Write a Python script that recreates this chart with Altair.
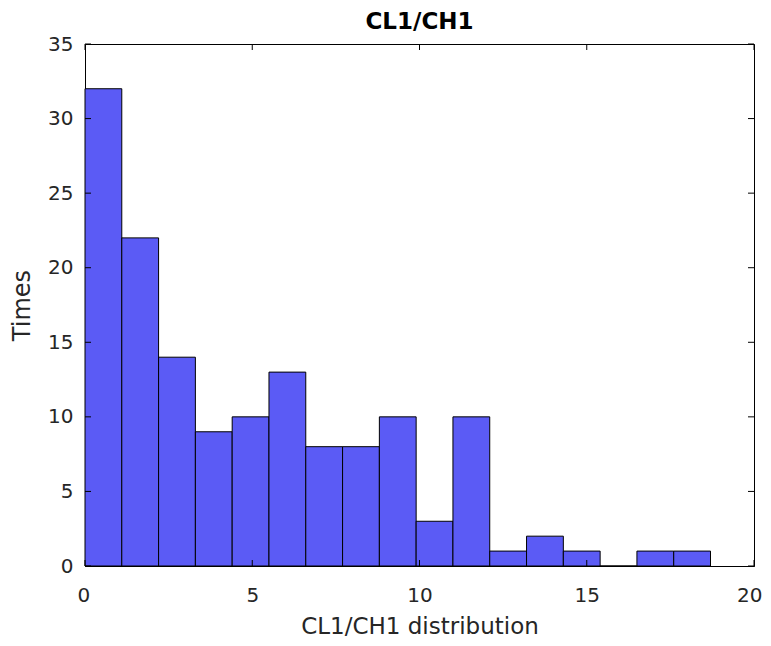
import altair as alt
import pandas as pd

bin_start = [0.0, 1.1, 2.2, 3.3, 4.4, 5.5, 6.6, 7.7, 8.8, 9.9, 11.0, 12.1, 13.2, 14.3, 15.4, 16.5, 17.6]
bin_end = [1.1, 2.2, 3.3, 4.4, 5.5, 6.6, 7.7, 8.8, 9.9, 11.0, 12.1, 13.2, 14.3, 15.4, 16.5, 17.6, 18.7]
counts = [32, 22, 14, 9, 10, 13, 8, 8, 10, 3, 10, 1, 2, 1, 0, 1, 1]
x_ticks = [0, 5, 10, 15, 20]
y_ticks = [0, 5, 10, 15, 20, 25, 30, 35]

W, H = 669, 522
FONT = "DejaVu Sans"
TL = 6

bars_df = pd.DataFrame({"start": bin_start, "end": bin_end, "count": counts})
xt_df = pd.DataFrame({"xt": x_ticks})
yt_df = pd.DataFrame({"yt": y_ticks})

xscale = alt.Scale(domain=[0, 20], nice=False, zero=False)
yscale = alt.Scale(domain=[0, 35], nice=False)

xaxis = alt.Axis(values=x_ticks, tickSize=0, labelPadding=19,
                 labelFontSize=20, labelFont=FONT, labelColor="#262626",
                 labelFlush=True, labelFlushOffset=8,
                 titleFont=FONT, titleFontSize=23, titleFontWeight="normal",
                 titleColor="#262626", titlePadding=10,
                 domainColor="black", grid=False)
yaxis = alt.Axis(values=y_ticks, tickSize=0, labelPadding=12,
                 labelFontSize=20, labelFont=FONT, labelColor="#262626",
                 titleFont=FONT, titleFontSize=24, titleFontWeight="normal",
                 titleColor="#262626", titlePadding=13,
                 domainColor="black", grid=False, labelFlush=False)
XT = "CL1/CH1 distribution"
YT = "Times"

bars = alt.Chart(bars_df).mark_rect(
    color="#5b5bf5", stroke="black", strokeWidth=1
).encode(
    x=alt.X("start:Q", scale=xscale, title=XT, axis=xaxis),
    x2="end:Q",
    y=alt.Y("count:Q", scale=yscale, title=YT, axis=yaxis),
    y2=alt.datum(0),
)

xb = alt.Chart(xt_df).mark_rule(color="black", strokeWidth=1).encode(
    x=alt.X("xt:Q", scale=xscale, title=XT, axis=xaxis), y=alt.value(H), y2=alt.value(H - TL))
xtop = alt.Chart(xt_df).mark_rule(color="black", strokeWidth=1).encode(
    x=alt.X("xt:Q", scale=xscale, title=XT, axis=xaxis), y=alt.value(0), y2=alt.value(TL))
yl = alt.Chart(yt_df).mark_rule(color="black", strokeWidth=1).encode(
    y=alt.Y("yt:Q", scale=yscale, title=YT, axis=yaxis), x=alt.value(0), x2=alt.value(TL))
yr = alt.Chart(yt_df).mark_rule(color="black", strokeWidth=1).encode(
    y=alt.Y("yt:Q", scale=yscale, title=YT, axis=yaxis), x=alt.value(W), x2=alt.value(W - TL))

chart = alt.layer(bars, xb, xtop, yl, yr).properties(
    width=W, height=H,
    title=alt.TitleParams("CL1/CH1", font=FONT, fontSize=23, fontWeight="bold",
                          color="black", anchor="middle", frame="group", offset=9, dy=9),
    autosize=alt.AutoSizeParams(type="none"),
    padding={"left": 77, "top": 36, "right": 9, "bottom": 72},
    background="white",
).configure_view(stroke="black", strokeWidth=1)

chart.save("out.html", embed_options={"renderer": "svg", "actions": False})
